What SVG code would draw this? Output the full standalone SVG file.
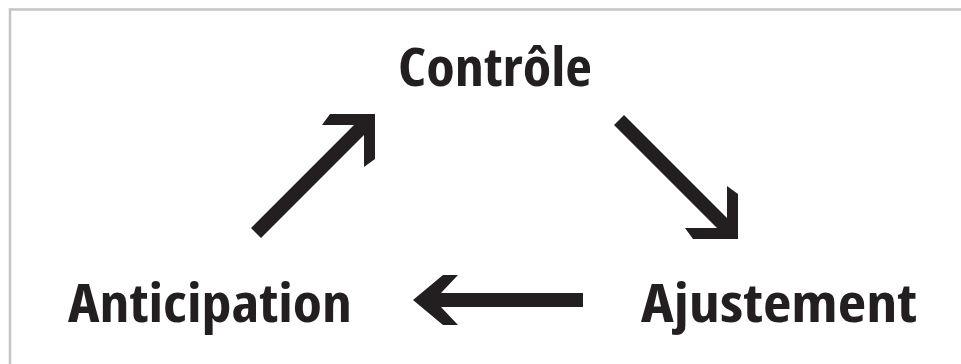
<svg xmlns="http://www.w3.org/2000/svg" width="961" height="364" viewBox="0 0 961 364">
  <style>
    .lbl { font-family: "Open Sans", "Liberation Sans", sans-serif; font-weight: 700; font-size: 54px; fill: #231f20; font-stretch: condensed; }
    .arr { fill: #231f20; stroke: none; }
    .frame { stroke: #c4c4c6; stroke-width: 2.5; fill: none; }
  </style>
  <rect width="961" height="364" fill="#ffffff"/>
  <path class="frame" d="M10,364 V9.5 H961"/>
  <g id="controle"><text class="lbl" x="398" y="86" textLength="194" lengthAdjust="spacingAndGlyphs">Contrôle</text></g>
  <g id="anticipation"><text class="lbl" x="68" y="322" textLength="284" lengthAdjust="spacingAndGlyphs">Anticipation</text></g>
  <g id="ajustement"><text class="lbl" x="641" y="322" textLength="276" lengthAdjust="spacingAndGlyphs">Ajustement</text></g>
  <g id="connectors">
    <path class="arr" d="M251,228 L354,125 L322,125 L330,114 L375,114 L375,159 L364,167 L364,135 L261,238 Z"/>
    <path class="arr" d="M614,125 L717,228 L685,228 L693,239 L738,239 L738,194 L727,186 L727,218 L624,115 Z"/>
    <path class="arr" d="M413,300 L443,275 L458,275 L441,293 L583,293 L583,307 L441,307 L458,325 L443,325 Z"/>
  </g>
</svg>
